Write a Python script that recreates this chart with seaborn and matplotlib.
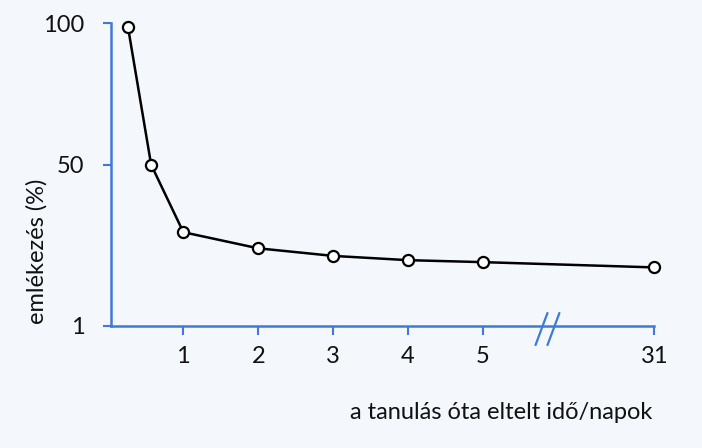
import numpy as np
import pandas as pd
import matplotlib
matplotlib.use("Agg")
import matplotlib.pyplot as plt
from matplotlib.lines import Line2D
import seaborn as sns

# data (schematic forgetting curve)
days = [0.26, 0.57, 1, 2, 3, 4, 5, 31]
retention = [98.8, 50.0, 29.5, 24.6, 22.3, 21.0, 20.4, 18.8]
x_ticks = [1, 2, 3, 4, 5, 31]
y_ticks = [1, 50, 100]

blue = "#3f7ad9"
bg = "#f4f8fd"

sns.set_style("white")
plt.rcParams["font.family"] = ["Lato", "DejaVu Sans"]

df = pd.DataFrame({"nap": days, "emlekezes": retention})

fig = plt.figure(figsize=(7.02, 4.48), dpi=100, facecolor=bg)
ax = fig.add_axes([110.7 / 702, 1 - 326 / 448, 543.6 / 702, 302.7 / 448])
ax.set_facecolor(bg)

sns.lineplot(data=df, x="nap", y="emlekezes", ax=ax, color="black",
             linewidth=1.8, marker="o", markersize=8,
             markerfacecolor="white", markeredgecolor="black",
             markeredgewidth=1.6, clip_on=False)

# broken x axis: days 5..31 squeezed; uneven y axis as drawn in the book
bx, by = [-1, 5, 31], [-1, 5, 7.29]
ax.set_xscale("function", functions=(lambda v: np.interp(v, bx, by),
                                     lambda v: np.interp(v, by, bx)))
ly, py = [0, 1, 50, 100], [-3.3, 0, 161.3, 302.7]
ax.set_yscale("function", functions=(lambda v: np.interp(v, ly, py),
                                     lambda v: np.interp(v, py, ly)))
ax.set_xlim(0.03, 31)
ax.set_ylim(1, 100)

ax.set_xticks(x_ticks)
ax.set_xticklabels([str(t) for t in x_ticks])
ax.set_yticks(y_ticks)
ax.set_yticklabels([str(t) for t in y_ticks])
ax.minorticks_off()

for side in ["top", "right"]:
    ax.spines[side].set_visible(False)
for side in ["left", "bottom"]:
    ax.spines[side].set_color(blue)
    ax.spines[side].set_linewidth(1.8)

ax.tick_params(axis="x", bottom=True, direction="out", length=6.5, width=1.5,
               color=blue, pad=8, labelsize=17, labelcolor="#111111")
ax.tick_params(axis="y", left=True, direction="out", length=6, width=1.5,
               color=blue, pad=13, labelsize=17, labelcolor="#111111")

# break marks
for dx in (-0.011, 0.011):
    ax.add_line(Line2D([0.8035 + dx - 0.011, 0.8035 + dx + 0.011], [-0.063, 0.043],
                       transform=ax.transAxes, color=blue, lw=1.6, clip_on=False))

ax.set_xlabel("a tanulás óta eltelt idő/napok", fontsize=17, color="#111111",
              ha="right", va="center")
ax.xaxis.set_label_coords(0.9958, -0.287)
ax.set_ylabel("emlékezés (%)", fontsize=17, color="#111111",
              ha="center", va="center")
ax.yaxis.set_label_coords(-0.1356, 0.248)

fig.savefig("out.png", dpi=100, facecolor=bg)
